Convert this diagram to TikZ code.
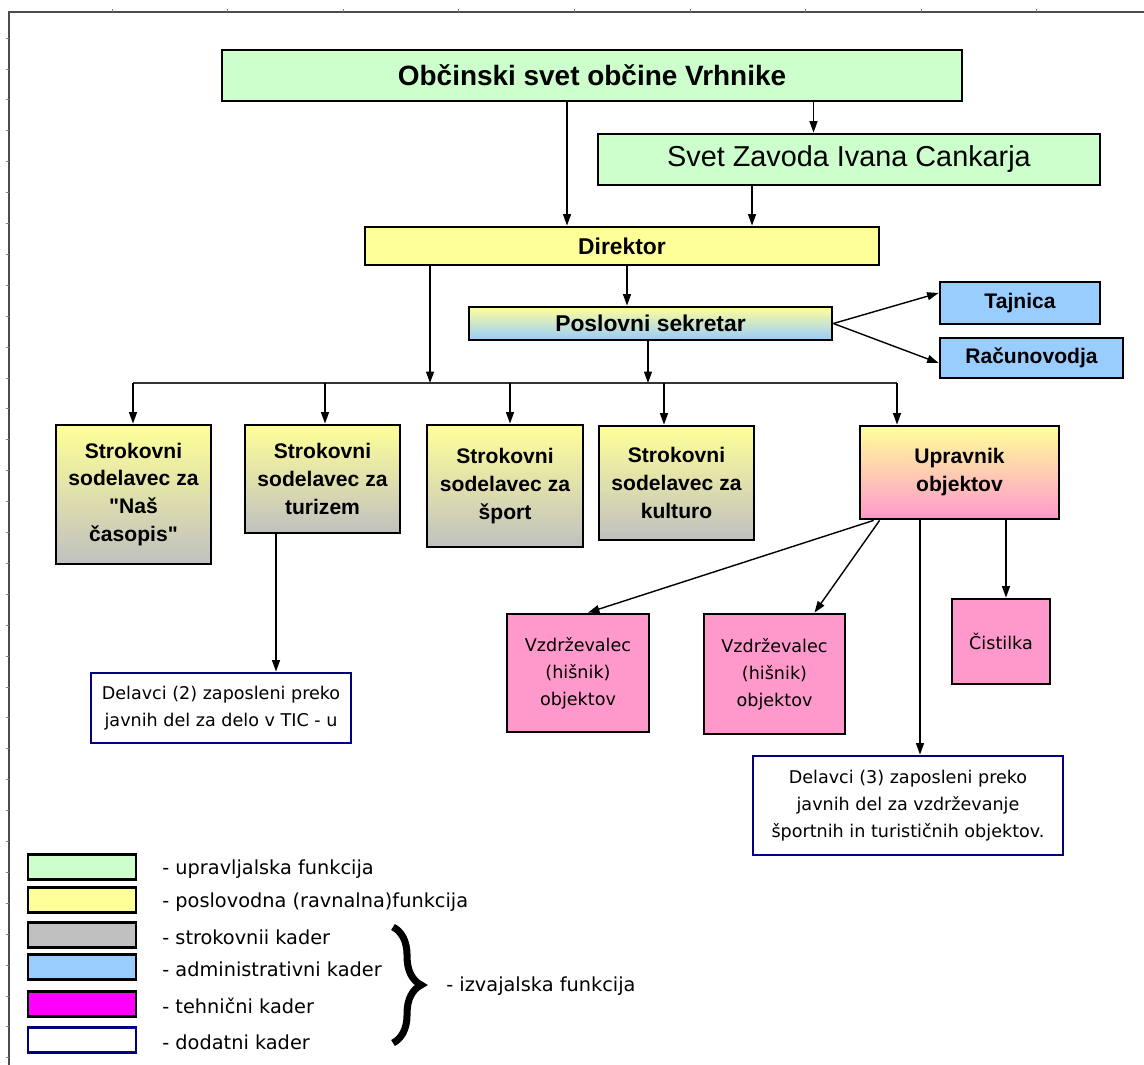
\documentclass[tikz,border=0pt]{standalone}
\usepackage{fontspec}
\newfontfamily\boxfont{Liberation Sans}
\newfontfamily\smallfont{DejaVu Sans}
\usetikzlibrary{arrows.meta,decorations.pathreplacing}
\definecolor{zelena}{HTML}{CCFFCC}
\definecolor{rumena}{HTML}{FFFF99}
\definecolor{siva}{HTML}{C0C0C0}
\definecolor{modra}{HTML}{99CCFF}
\definecolor{roza}{HTML}{FF99CC}
\definecolor{vijolicna}{HTML}{FF00FF}
\definecolor{temnomodra}{HTML}{000080}

\begin{document}
\begin{tikzpicture}[x=0.02cm,y=-0.02cm,
  box/.style={draw,line width=1.6pt,inner sep=2pt,align=center,font=\boxfont\bfseries\fontsize{12}{15.9}\selectfont},
  strokovni/.style={box,top color=rumena,bottom color=siva},
  tehnicni/.style={box,fill=roza,font=\smallfont\fontsize{10}{15.3}\selectfont},
  dodatni/.style={draw=temnomodra,line width=1.6pt,fill=white,align=center,font=\smallfont\fontsize{10}{15.5}\selectfont},
  conn/.style={-{Triangle[length=6.5pt,width=4.5pt]},line width=0.8pt},
  legbox/.style={line width=1.6pt,inner sep=0pt,minimum width=2.16cm,minimum height=0.5cm},
  legtext/.style={anchor=west,inner sep=0pt,font=\smallfont\fontsize{11}{13}\selectfont}]
\useasboundingbox (0,0) rectangle (1144,1065);
% okvir
\draw[black!70,line width=1.1pt] (1144,12) -- (9,12) -- (9,1065);
\foreach \k in {0,...,8} \draw[gray] (112+115.6*\k,12) -- ++(0,-3);
\foreach \k in {0,...,33} \draw[gray] (9,38+30.9*\k) -- ++(-3,0);

\node[box,fill=zelena,minimum width=14.8cm,minimum height=1.02cm,font=\boxfont\bfseries\fontsize{15.9}{18}\selectfont] (obcina) at (592,75.5) {Občinski svet občine Vrhnike};
\node[box,fill=zelena,minimum width=10.04cm,minimum height=1.02cm,font=\boxfont\fontsize{16.4}{18}\selectfont] (zavod) at (849,159.5) {Svet Zavoda Ivana Cankarja};
\node[box,fill=rumena,minimum width=10.28cm,minimum height=0.76cm,font=\boxfont\bfseries\fontsize{13}{15}\selectfont] (direktor) at (622,246) {Direktor};
\node[box,top color=rumena,bottom color=modra,minimum width=7.26cm,minimum height=0.66cm,font=\boxfont\bfseries\fontsize{13}{15}\selectfont] (poslovni) at (650.5,323.5) {Poslovni sekretar};
\node[box,fill=modra,minimum width=3.2cm,minimum height=0.84cm] (tajnica) at (1020,303) {Tajnica};
\node[box,fill=modra,minimum width=3.66cm,minimum height=0.8cm] (racunovodja) at (1031.5,358) {Računovodja};

\node[strokovni,minimum width=3.1cm,minimum height=2.78cm] (casopis) at (133.5,494.5) {Strokovni\\sodelavec za\\"Naš\\časopis"};
\node[strokovni,minimum width=3.1cm,minimum height=2.16cm] (turizem) at (322.5,479) {Strokovni\\sodelavec za\\turizem};
\node[strokovni,minimum width=3.12cm,minimum height=2.44cm] (sport) at (505,486) {Strokovni\\sodelavec za\\šport};
\node[strokovni,minimum width=3.1cm,minimum height=2.28cm] (kultura) at (676.5,483) {Strokovni\\sodelavec za\\kulturo};
\node[box,top color=rumena,bottom color=roza,minimum width=3.98cm,minimum height=1.86cm] (upravnik) at (959.5,472.5) {Upravnik\\objektov};

\node[dodatni,minimum width=5.2cm,minimum height=1.4cm] (delavciTIC) at (221,708) {Delavci (2) zaposleni preko\\javnih del za delo v TIC - u};
\node[tehnicni,minimum width=2.84cm,minimum height=2.36cm] (hisnik1) at (578,673) {Vzdrževalec\\(hišnik)\\objektov};
\node[tehnicni,minimum width=2.82cm,minimum height=2.4cm] (hisnik2) at (774.5,674) {Vzdrževalec\\(hišnik)\\objektov};
\node[tehnicni,minimum width=1.96cm,minimum height=1.7cm] (cistilka) at (1001,641.5) {Čistilka};
\node[dodatni,minimum width=6.2cm,minimum height=1.98cm] (delavciObj) at (908,805.5) {Delavci (3) zaposleni preko\\javnih del za vzdrževanje\\športnih in turističnih objektov.};

% povezave
\draw[conn] ([xshift=-1.1cm]direktor.north |- obcina.south) -- ([xshift=-1.1cm]direktor.north);
\draw[conn] ([xshift=-0.71cm]zavod.north |- obcina.south) -- ([xshift=-0.71cm]zavod.north);
\draw[conn] ([xshift=-1.94cm]zavod.south) -- ([xshift=-1.94cm]zavod.south |- direktor.north);
\draw[conn] ([xshift=-0.47cm]poslovni.north |- direktor.south) -- ([xshift=-0.47cm]poslovni.north);
\draw[conn] (poslovni.east) -- ([yshift=0.2cm]tajnica.west);
\draw[conn] (poslovni.east) -- ([yshift=-0.1cm]racunovodja.west);

\coordinate (barL) at (133,383);
\coordinate (barR) at (897,383);
\draw[line width=0.9pt,black!80] (barL) -- (barR);
\draw[conn] ([xshift=-3.84cm]direktor.south) -- ([xshift=-3.84cm]direktor.south |- barL);
\draw[conn] ([xshift=-0.05cm]poslovni.south) -- ([xshift=-0.05cm]poslovni.south |- barL);
\foreach \n/\x in {casopis/133,turizem/325,sport/510,kultura/664,upravnik/897}{
  \coordinate (bar\n) at (\x,383);
  \draw[conn] (bar\n) -- (bar\n |- \n.north);
}

\draw[conn] ([xshift=-0.93cm]turizem.south) -- ([xshift=-0.93cm]turizem.south |- delavciTIC.north);
\draw[conn] ([xshift=0.3cm]upravnik.south west) -- ([xshift=0.2cm]hisnik1.north);
\draw[conn] ([xshift=0.42cm]upravnik.south west) -- ([xshift=0.8cm]hisnik2.north);
\draw[conn] ([xshift=0.24cm]delavciObj.north |- upravnik.south) -- ([xshift=0.24cm]delavciObj.north);
\draw[conn] ([xshift=0.1cm]cistilka.north |- upravnik.south) -- ([xshift=0.1cm]cistilka.north);

% legenda
\foreach \f/\d/\y/\t [count=\i] in {zelena/black/867/{- upravljalska funkcija},
    rumena/black/900/{- poslovodna (ravnalna)funkcija},
    siva/black/935/{- strokovnii kader},
    modra/black/967/{- administrativni kader},
    vijolicna/black/1004/{- tehnični kader},
    white/temnomodra/1040/{- dodatni kader}}{
  \node[legbox,fill=\f,draw=\d] (leg\i) at (82,\y) {};
  \node[legtext] (legtxt\i) at (162,\y+2) {\t};
}
\draw[decorate,decoration={brace,amplitude=16pt},line width=4pt] (393,927) -- (393,1043);
\node[legtext] (izvajalska) at (446,986) {- izvajalska funkcija};
\end{tikzpicture}
\end{document}
